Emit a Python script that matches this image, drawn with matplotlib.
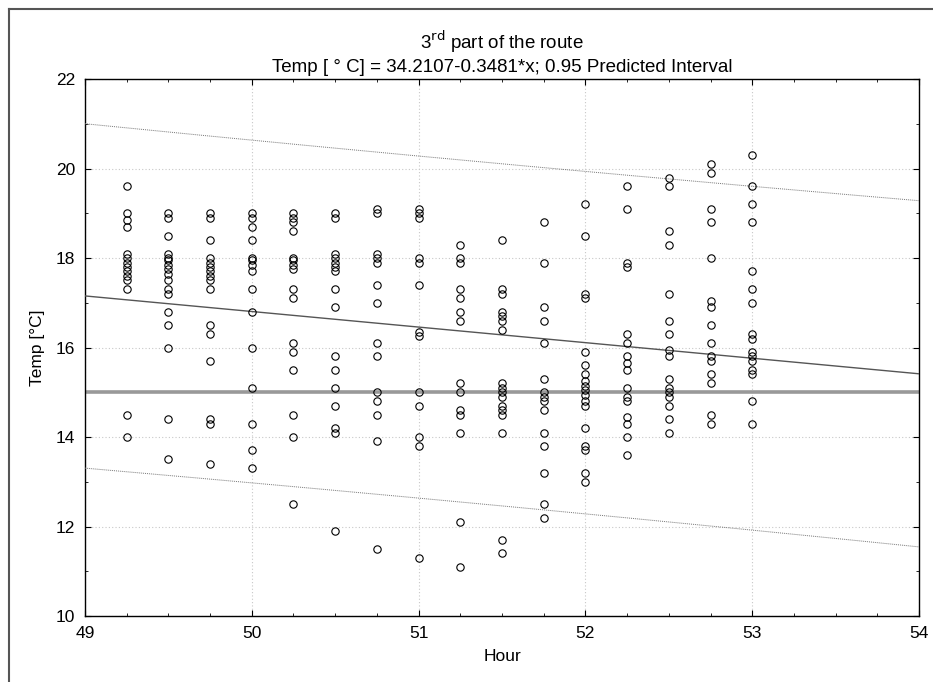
import numpy as np
import matplotlib.pyplot as plt
from matplotlib.lines import Line2D

# hour columns and the temperatures
hours = [49.25, 49.5, 49.75, 50.0, 50.25, 50.5, 50.75, 51.0,
         51.25, 51.5, 51.75, 52.0, 52.25, 52.5, 52.75, 53.0]
temps = [
    [19.6, 19.0, 18.85, 18.7, 18.1, 18.0, 17.9, 17.8, 17.7, 17.6, 17.5, 17.3, 14.5, 14.0],
    [19.0, 18.9, 18.5, 18.1, 18.0, 17.95, 17.85, 17.75, 17.65, 17.5, 17.3, 17.2, 16.8, 16.5, 16.0, 14.4, 13.5],
    [19.0, 18.9, 18.4, 18.0, 17.9, 17.8, 17.7, 17.6, 17.5, 17.3, 16.5, 16.3, 15.7, 14.4, 14.3, 13.4],
    [19.0, 18.9, 18.7, 18.4, 18.0, 17.95, 17.85, 17.7, 17.3, 16.8, 16.0, 15.1, 14.3, 13.7, 13.3],
    [19.0, 18.9, 18.8, 18.6, 18.0, 17.95, 17.85, 17.75, 17.3, 17.1, 16.1, 15.9, 15.5, 14.5, 14.0, 12.5],
    [19.0, 18.9, 18.1, 18.0, 17.9, 17.8, 17.7, 17.3, 16.9, 15.8, 15.5, 15.1, 14.7, 14.2, 14.1, 11.9],
    [19.1, 19.0, 18.1, 18.0, 17.9, 17.4, 17.0, 16.1, 15.8, 15.0, 14.8, 14.5, 13.9, 11.5],
    [19.1, 19.0, 18.9, 18.0, 17.9, 17.4, 16.35, 16.25, 15.0, 14.7, 14.0, 13.8, 11.3],
    [18.3, 18.0, 17.9, 17.3, 17.1, 16.8, 16.6, 15.2, 15.0, 14.6, 14.5, 14.1, 12.1, 11.1],
    [18.4, 17.3, 17.2, 16.8, 16.7, 16.6, 16.4, 15.2, 15.1, 15.0, 14.9, 14.7, 14.6, 14.5, 14.1, 11.7, 11.4],
    [18.8, 17.9, 16.9, 16.6, 16.1, 15.3, 15.0, 14.9, 14.8, 14.6, 14.1, 13.8, 13.2, 12.5, 12.2],
    [19.2, 18.5, 17.2, 17.1, 15.9, 15.6, 15.4, 15.25, 15.15, 15.05, 14.95, 14.8, 14.7, 14.2, 13.8, 13.7, 13.2, 13.0],
    [19.6, 19.1, 17.9, 17.8, 16.3, 16.1, 15.8, 15.65, 15.5, 15.1, 14.9, 14.8, 14.45, 14.3, 14.0, 13.6],
    [19.8, 19.6, 18.6, 18.3, 17.2, 16.6, 16.3, 15.95, 15.8, 15.3, 15.1, 15.0, 14.9, 14.7, 14.4, 14.1],
    [20.1, 19.9, 19.1, 18.8, 18.0, 17.05, 16.9, 16.5, 16.1, 15.8, 15.7, 15.4, 15.2, 14.5, 14.3],
    [20.3, 19.6, 19.2, 18.8, 17.7, 17.3, 17.0, 16.3, 16.2, 15.9, 15.8, 15.7, 15.5, 15.4, 14.8, 14.3],
]

intercept, slope = 34.2107, -0.3481
reference_temp = 15.0

x = np.concatenate([[h] * len(t) for h, t in zip(hours, temps)])
y = np.concatenate(temps)

# 0.95 prediction band around the stated fit
n = len(x)
resid = y - (intercept + slope * x)
s = np.sqrt(np.sum(resid ** 2) / (n - 2))
xbar = x.mean()
sxx = np.sum((x - xbar) ** 2)
xs = np.linspace(49, 54, 200)
fit = intercept + slope * xs
half = 1.97 * s * np.sqrt(1 + 1 / n + (xs - xbar) ** 2 / sxx)

plt.rcParams['font.family'] = ['Liberation Sans', 'DejaVu Sans']

fig = plt.figure(figsize=(9.33, 6.82), dpi=100)
ax = fig.add_axes([0.0911, 0.0968, 0.8939, 0.7872])

ax.grid(True, which='major', color='#c8c8c8', linestyle=(0, (1, 2)), linewidth=0.8)
ax.set_axisbelow(True)

ax.axhline(reference_temp, color='#999999', linewidth=2.6, zorder=2)
ax.plot(xs, fit, color='#555555', linewidth=1.0, zorder=3)
ax.plot(xs, fit + half, color='#777777', linewidth=0.7, linestyle=(0, (1, 1)), zorder=3)
ax.plot(xs, fit - half, color='#777777', linewidth=0.7, linestyle=(0, (1, 1)), zorder=3)
ax.plot(x, y, linestyle='none', marker='o', markersize=5.3, markerfacecolor='none',
        markeredgecolor='black', markeredgewidth=0.8, zorder=4)

ax.set_xlim(49, 54)
ax.set_ylim(10, 22)
ax.set_xticks(np.arange(49, 54.1, 1))
ax.set_xticks(np.arange(49, 54.01, 0.25), minor=True)
ax.set_yticks(np.arange(10, 22.1, 2))
ax.set_yticks(np.arange(10, 22.1, 1), minor=True)
ax.tick_params(which='both', direction='in', labelsize=12.5, color='black',
               top=True, right=True)
ax.tick_params(which='major', length=4, pad=7)
ax.tick_params(which='minor', length=2)
for sp in ax.spines.values():
    sp.set_linewidth(1.0)

ax.set_xlabel('Hour', fontsize=12.5, labelpad=6)
ax.set_ylabel('Temp [°C]', fontsize=12.5, labelpad=8)
ax.set_title('3$^{\\mathrm{rd}}$ part of the route\nTemp [ ° C] = 34.2107-0.3481*x; 0.95 Predicted Interval',
             fontsize=13.5, pad=5, linespacing=1.35, fontweight='medium')

# outer frame of the original graph window
fig.add_artist(Line2D([9 / 933, 9 / 933], [0, 1 - 9 / 682], transform=fig.transFigure,
                      color='#555555', linewidth=1.5))
fig.add_artist(Line2D([9 / 933, 1], [1 - 9 / 682, 1 - 9 / 682], transform=fig.transFigure,
                      color='#555555', linewidth=1.5))

fig.savefig('out.png', dpi=100)
